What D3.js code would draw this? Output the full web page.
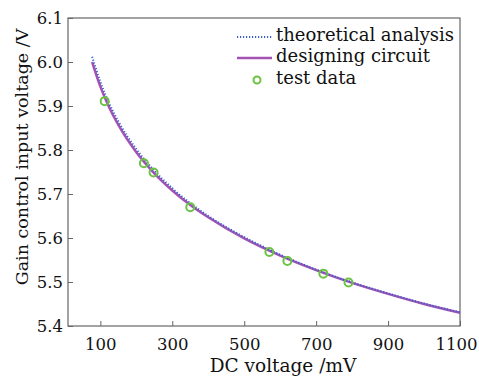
<!DOCTYPE html>
<html>
<head>
<meta charset="utf-8">
<script src="https://cdn.jsdelivr.net/npm/d3@7"></script>
<style>
	body { margin: 0; background: #fff; }
	svg text { font-family: "DejaVu Serif", serif; fill: #111; }
</style>
</head>
<body>
<svg id="chart" width="479" height="380"></svg>
<script>

//------------------------------------------------------------------------------
// Data

var curveX      = [77, 100, 125, 150, 200, 250, 300, 350, 400, 500, 600, 700, 800, 900, 1000, 1100];
var theoryY     = [6.012, 5.955, 5.905, 5.865, 5.802, 5.753, 5.713, 5.679, 5.650, 5.602, 5.562, 5.528, 5.499, 5.474, 5.451, 5.431];
var designY     = [6.000, 5.944, 5.896, 5.857, 5.795, 5.747, 5.708, 5.675, 5.647, 5.599, 5.560, 5.527, 5.498, 5.473, 5.450, 5.430];
var testX       = [112, 221, 248, 350, 570, 620, 720, 790];
var testY       = [5.911, 5.770, 5.749, 5.670, 5.568, 5.548, 5.519, 5.499];
var xTicks      = [100, 300, 500, 700, 900, 1100];
var yTicks      = [5.4, 5.5, 5.6, 5.7, 5.8, 5.9, 6.0, 6.1];
var legendNames = ['theoretical analysis', 'designing circuit', 'test data'];

//------------------------------------------------------------------------------
// Layout

var svg = d3.select('#chart');
var m = { left: 68, right: 460, top: 18, bottom: 326 };

var x = d3.scaleLinear().domain([10, 1100]).range([m.left, m.right]);
var y = d3.scaleLinear().domain([5.4, 6.1]).range([m.bottom, m.top]);

var axisColor = '#666';

function styleAxis(g)
{
	g.select('.domain').remove();
	g.selectAll('line').attr('stroke', axisColor);
	g.selectAll('text')
		.attr('font-size', 16.5)
		.attr('font-family', '"DejaVu Serif", serif')
		.attr('fill', '#111');
}

svg.append('g')
	.attr('transform', 'translate(0,' + m.bottom + ')')
	.call(d3.axisBottom(x).tickValues(xTicks).tickFormat(d3.format('d'))
		.tickSizeInner(-5).tickSizeOuter(0).tickPadding(12))
	.call(styleAxis)
	.call(function (g) {
		// last label sits a little left of its tick, as in the original
		g.selectAll('.tick text').filter(function (d) { return d === 1100; })
			.attr('dx', -4);
	});

svg.append('g')
	.attr('transform', 'translate(' + m.left + ',0)')
	.call(d3.axisLeft(y).tickValues(yTicks).tickFormat(d3.format('.1f'))
		.tickSizeInner(-5).tickSizeOuter(0).tickPadding(5))
	.call(styleAxis);

svg.append('rect')
	.attr('x', m.left).attr('y', m.top)
	.attr('width', m.right - m.left).attr('height', m.bottom - m.top)
	.attr('fill', 'none').attr('stroke', axisColor).attr('stroke-width', 1.2);

//------------------------------------------------------------------------------
// Curves

var line = d3.line().curve(d3.curveMonotoneX);

svg.append('path')
	.datum(curveX.map(function (d, i) { return [x(d), y(designY[i])]; }))
	.attr('d', line)
	.attr('fill', 'none').attr('stroke', '#a553b3').attr('stroke-width', 2.5);

svg.append('path')
	.datum(curveX.map(function (d, i) { return [x(d), y(theoryY[i])]; }))
	.attr('d', line)
	.attr('fill', 'none').attr('stroke', '#3a5fcd').attr('stroke-width', 2)
	.attr('stroke-dasharray', '1.2,1.8');

svg.append('g').selectAll('circle')
	.data(testX.map(function (d, i) { return [d, testY[i]]; }))
	.enter().append('circle')
	.attr('cx', function (d) { return x(d[0]); })
	.attr('cy', function (d) { return y(d[1]); })
	.attr('r', 4)
	.attr('fill', 'none').attr('stroke', '#6cc343').attr('stroke-width', 2);

//------------------------------------------------------------------------------
// Legend

var legend = svg.append('g');
var rowY = [37, 58, 80];

legend.append('line')
	.attr('x1', 237).attr('x2', 272).attr('y1', rowY[0]).attr('y2', rowY[0])
	.attr('stroke', '#3a5fcd').attr('stroke-width', 2).attr('stroke-dasharray', '1.2,1.8');
legend.append('line')
	.attr('x1', 237).attr('x2', 272).attr('y1', rowY[1]).attr('y2', rowY[1])
	.attr('stroke', '#a553b3').attr('stroke-width', 2.5);
legend.append('circle')
	.attr('cx', 257).attr('cy', rowY[2]).attr('r', 3.5)
	.attr('fill', 'none').attr('stroke', '#6cc343').attr('stroke-width', 2);

legend.selectAll('text')
	.data(legendNames)
	.enter().append('text')
	.attr('x', 276)
	.attr('y', function (d, i) { return rowY[i] + 4; })
	.attr('font-size', 18)
	.text(function (d) { return d; });

//------------------------------------------------------------------------------
// Axis titles

svg.append('text')
	.attr('x', 283).attr('y', 372)
	.attr('text-anchor', 'middle').attr('font-size', 18.5)
	.text('DC voltage /mV');

svg.append('text')
	.attr('transform', 'translate(28,157) rotate(-90)')
	.attr('text-anchor', 'middle').attr('font-size', 17.5)
	.text('Gain control input voltage /V');

</script>
</body>
</html>
